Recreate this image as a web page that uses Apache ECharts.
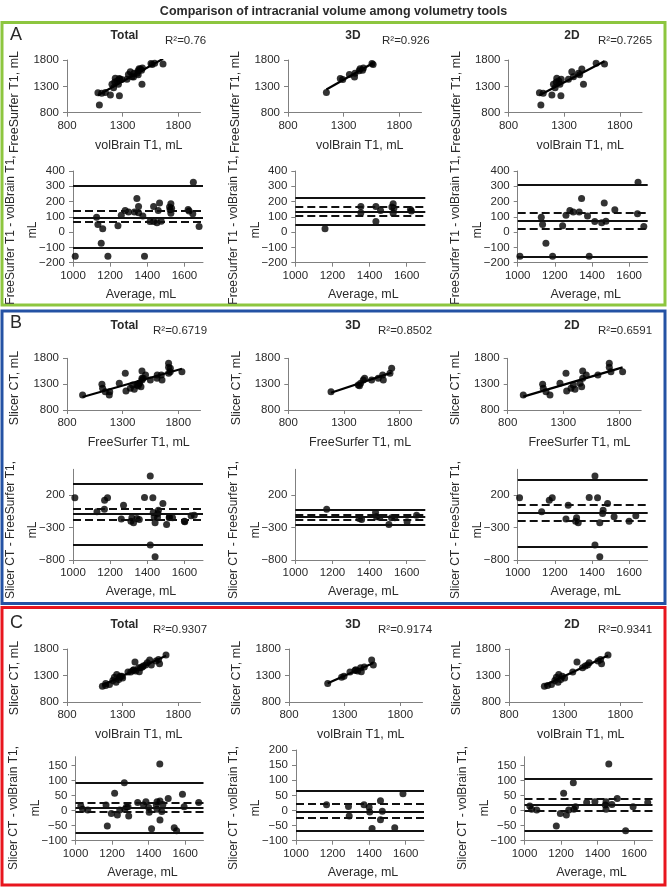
<!DOCTYPE html>
<html>
<head>
<meta charset="utf-8">
<script src="https://cdn.jsdelivr.net/npm/echarts@6/dist/echarts.min.js"></script>
<style>
html, body { margin: 0; padding: 0; background: #fff; }
#chart { width: 667px; height: 888px; }
</style>
</head>
<body>
<div id="chart"></div>
<script>
// ---- data ----
// Panel A: FreeSurfer T1 (y) vs volBrain T1 (x)
var aVol3d = [1145, 1270, 1292, 1352, 1398, 1402, 1448, 1470, 1478, 1440, 1555, 1565];
var aFs3d  = [1185, 1448, 1432, 1525, 1478, 1548, 1635, 1605, 1650, 1598, 1735, 1715];
var aVol2d = [1091, 1078, 1112, 1190, 1271, 1204, 1219, 1234, 1229, 1253, 1274, 1262, 1339, 1369, 1384, 1429, 1459, 1474, 1440, 1588, 1663];
var aFs2d  = [946, 1180, 1168, 1136, 1123, 1339, 1275, 1453, 1383, 1402, 1434, 1339, 1434, 1578, 1483, 1548, 1629, 1339, 1520, 1737, 1724];
var aAvg3d  = [1160, 1353, 1353, 1434, 1434, 1459, 1527, 1531, 1527, 1520, 1620, 1625];
var aDiff3d = [22, 168, 127, 168, 70, 142, 185, 157, 124, 165, 148, 138];
var aAvg2d  = [1012, 1127, 1134, 1152, 1188, 1242, 1260, 1281, 1299, 1331, 1344, 1376, 1385, 1415, 1452, 1466, 1475, 1523, 1648, 1645, 1679];
var aDiff2d = [-157, 98, 50, -72, -157, 42, 111, 142, 131, 131, 220, 105, -157, 70, 61, 190, 72, 146, 327, 120, 37];
// upper LoA, upper CI, mean, lower CI, lower LoA
var aLinesTotal = [305, 137, 97, 67, -103];
var aLines3d    = [228, 163, 135, 107, 48];
var aLines2d    = [311, 125, 76, 20, -160];
var aR2 = ['0.76', '0.926', '0.7265'];

// Panel B: Slicer CT (y) vs FreeSurfer T1 (x)
var bFs3d = [1184, 1429, 1450, 1474, 1486, 1549, 1609, 1648, 1654, 1714, 1729, 1440];
var bSl3d = [1154, 1284, 1316, 1380, 1413, 1380, 1413, 1477, 1380, 1510, 1606, 1270];
var bFs2d = [940, 1114, 1120, 1144, 1180, 1270, 1324, 1330, 1369, 1390, 1405, 1450, 1465, 1474, 1474, 1506, 1611, 1713, 1713, 1728, 1833];
var bSl2d = [1090, 1297, 1220, 1154, 1090, 1316, 1510, 1167, 1220, 1284, 1200, 1316, 1251, 1554, 1413, 1477, 1477, 1703, 1626, 1541, 1541];
var bAvg3d  = [1169, 1344, 1357, 1432, 1437, 1455, 1504, 1518, 1536, 1602, 1653];
var bDiff3d = [-15, -159, -174, -66, -133, -143, -251, -149, -149, -210, -108];
var bAvg2d  = [1010, 1129, 1170, 1186, 1260, 1272, 1317, 1326, 1312, 1385, 1416, 1430, 1442, 1460, 1457, 1484, 1416, 1442, 1519, 1600, 1636];
var bDiff2d = [159, -57, 123, 159, -169, 46, -149, -226, -200, 164, 497, 159, -226, -31, -82, 72, -569, -749, -133, -200, -118];
var bLinesTotal = [380, -5, -92, -174, -569];
var bLines3d    = [-20, -97, -134, -174, -261];
var bLines2d    = [441, 46, -72, -195, -595];
var bR2 = ['0.6719', '0.8502', '0.6591'];

// Panel C: Slicer CT (y) vs volBrain T1 (x)
var cVol3d = [1148, 1273, 1294, 1348, 1393, 1417, 1444, 1450, 1477, 1543, 1558, 1400];
var cSl3d  = [1148, 1269, 1288, 1364, 1394, 1383, 1445, 1369, 1459, 1591, 1497, 1410];
var cVol2d = [1118, 1147, 1182, 1212, 1226, 1241, 1247, 1265, 1279, 1300, 1373, 1411, 1461, 1485, 1506, 1521, 1623, 1632, 1690, 1600];
var cSl2d  = [1098, 1110, 1128, 1204, 1269, 1174, 1318, 1223, 1288, 1255, 1364, 1553, 1445, 1478, 1497, 1540, 1603, 1521, 1686, 1575];
var cAvg3d  = [1167, 1287, 1291, 1372, 1400, 1403, 1416, 1462, 1462, 1472, 1540, 1585];
var cDiff3d = [19, 13, -18, 19, 11, -5, -60, 32, -31, -3, -57, 55];
var cAvg2d  = [1029, 1039, 1067, 1174, 1196, 1214, 1229, 1242, 1267, 1270, 1279, 1340, 1385, 1442, 1446, 1446, 1461, 1478, 1507, 1553, 1594, 1674];
var cDiff2d = [16, 5, 2, -51, -9, 58, -14, 2, 93, 5, 13, 27, 30, 19, 5, 30, 156, 21, 41, -67, 13, 27];
var cLinesTotal = [93, 25, 11, -3, -73];
var cLines3d    = [66, 21, -3, -23, -68];
var cLines2d    = [105, 39, 19, -1, -68];
var cR2 = ['0.9307', '0.9174', '0.9341'];

var groupNames = ['Total', '3D', '2D'];
var scatterTicks = [800, 1300, 1800];
var baXTicks = [1000, 1200, 1400, 1600];
var aBaYTicks = [-200, -100, 0, 100, 200, 300, 400];
var bBaYTicks = [-800, -300, 200];
var cBaYTicks = [-100, -50, 0, 50, 100, 150];
var cBaYTicks3d = [-100, -50, 0, 50, 100, 150, 200];

// ---- building the option ----
var FONT = "'Liberation Sans', Arial, Helvetica, sans-serif";
var AXIS_GRAY = '#808080';
var TEXT_COLOR = '#2a2a2a';

var grid = [], xAxis = [], yAxis = [], series = [], graphic = [];

function pairs(xs, ys) {
  return xs.map(function (x, i) { return [x, ys[i]]; });
}

// least squares trend line over the x range of the points
function trend(xs, ys) {
  var n = xs.length, mx = 0, my = 0, sxy = 0, sxx = 0;
  for (var i = 0; i < n; i++) { mx += xs[i] / n; my += ys[i] / n; }
  for (var j = 0; j < n; j++) {
    sxy += (xs[j] - mx) * (ys[j] - my);
    sxx += (xs[j] - mx) * (xs[j] - mx);
  }
  var b = sxy / sxx, a = my - b * mx;
  var x0 = Math.min.apply(null, xs), x1 = Math.max.apply(null, xs);
  return [[x0, a + b * x0], [x1, a + b * x1]];
}

function axisOpt(min, max, ticks, isX) {
  return {
    type: 'value', min: min, max: max, gridIndex: grid.length - 1,
    splitLine: { show: false },
    axisLine: { show: true, onZero: false, lineStyle: { color: AXIS_GRAY, width: 1 } },
    axisTick: { show: true, length: 4, customValues: ticks, lineStyle: { color: AXIS_GRAY } },
    axisLabel: {
      customValues: ticks, color: TEXT_COLOR, fontSize: 11.5, fontFamily: FONT,
      margin: isX ? 7 : 8,
      formatter: function (v) { return String(v).replace('-', '\u2212'); }
    }
  };
}

function addScatter(box, xs, ys) {
  grid.push({ left: box[0], top: box[1], width: box[2], height: box[3] });
  var idx = grid.length - 1;
  xAxis.push(axisOpt(800, 2000, scatterTicks, true));
  yAxis.push(axisOpt(800, 1800, scatterTicks, false));
  series.push({
    type: 'scatter', xAxisIndex: idx, yAxisIndex: idx, data: pairs(xs, ys),
    symbolSize: 7, itemStyle: { color: '#000' }, silent: true
  });
  series.push({
    type: 'line', xAxisIndex: idx, yAxisIndex: idx, data: trend(xs, ys),
    showSymbol: false, lineStyle: { color: '#000', width: 2.2 }, silent: true, z: 3
  });
}

function addBA(box, avg, diff, lines, yMin, yMax, yTicks) {
  grid.push({ left: box[0], top: box[1], width: box[2], height: box[3] });
  var idx = grid.length - 1;
  xAxis.push(axisOpt(1000, 1700, baXTicks, true));
  yAxis.push(axisOpt(yMin, yMax, yTicks, false));
  series.push({
    type: 'scatter', xAxisIndex: idx, yAxisIndex: idx, data: pairs(avg, diff),
    symbolSize: 7, itemStyle: { color: '#000' }, silent: true,
    markLine: {
      silent: true, symbol: ['none', 'none'], label: { show: false },
      animation: false,
      data: lines.map(function (v, i) {
        var dashed = (i === 1 || i === 3);
        return { yAxis: v, lineStyle: { color: '#111', width: 1.8, type: dashed ? [8, 4] : 'solid' } };
      })
    }
  });
}

function addText(x, y, s, size, weight, align, rot) {
  graphic.push({
    type: 'text', x: x, y: y, rotation: rot || 0, silent: true,
    style: {
      text: s, fill: TEXT_COLOR, fontSize: size, fontWeight: weight || 'normal', fontFamily: FONT,
      textAlign: align || 'center', textVerticalAlign: 'middle',
      align: align || 'center', verticalAlign: 'middle'
    }
  });
}

var ROT = Math.PI / 2;

// panel A
var scL = [67, 288, 508.5], scW = 133.5;
var baL = [73, 295.3, 517.7], baW = 130;
addScatter([scL[0], 60, scW, 52.7], aVol3d.concat(aVol2d), aFs3d.concat(aFs2d));
addScatter([scL[1], 60, scW, 52.7], aVol3d, aFs3d);
addScatter([scL[2], 60, scW, 52.7], aVol2d, aFs2d);
addBA([baL[0], 171, baW, 91.7], aAvg3d.concat(aAvg2d), aDiff3d.concat(aDiff2d), aLinesTotal, -200, 400, aBaYTicks);
addBA([baL[1], 171, baW, 91.7], aAvg3d, aDiff3d, aLines3d, -200, 400, aBaYTicks);
addBA([baL[2], 171, baW, 91.7], aAvg2d, aDiff2d, aLines2d, -200, 400, aBaYTicks);

// panel B
var bScL = [67, 288.3, 507.7];
addScatter([bScL[0], 358.3, scW, 51.7], bFs3d.concat(bFs2d), bSl3d.concat(bSl2d));
addScatter([bScL[1], 358.3, scW, 51.7], bFs3d, bSl3d);
addScatter([bScL[2], 358.3, scW, 51.7], bFs2d, bSl2d);
addBA([baL[0], 469.3, baW, 90.7], bAvg3d.concat(bAvg2d), bDiff3d.concat(bDiff2d), bLinesTotal, -800, 600, bBaYTicks);
addBA([baL[1], 469.3, baW, 90.7], bAvg3d, bDiff3d, bLines3d, -800, 600, bBaYTicks);
addBA([baL[2], 469.3, baW, 90.7], bAvg2d, bDiff2d, bLines2d, -800, 600, bBaYTicks);

// panel C
var cScL = [67, 289, 509];
var cBaL = [75.5, 296, 524.5], cBaW = 128;
addScatter([cScL[0], 649, scW, 53], cVol3d.concat(cVol2d), cSl3d.concat(cSl2d));
addScatter([cScL[1], 649, scW, 53], cVol3d, cSl3d);
addScatter([cScL[2], 649, scW, 53], cVol2d, cSl2d);
addBA([cBaL[0], 756.7, cBaW, 84], cAvg3d.concat(cAvg2d), cDiff3d.concat(cDiff2d), cLinesTotal, -100, 180, cBaYTicks);
addBA([cBaL[1], 750, cBaW, 90.7], cAvg3d, cDiff3d, cLines3d, -100, 200, cBaYTicks3d);
addBA([cBaL[2], 756.7, cBaW, 84], cAvg2d, cDiff2d, cLines2d, -100, 180, cBaYTicks);

// frames
graphic.push({ type: 'rect', silent: true, shape: { x: 2, y: 22.5, width: 663, height: 282.5 },
  style: { fill: 'none', stroke: '#8dc63f', lineWidth: 3 } });
graphic.push({ type: 'rect', silent: true, shape: { x: 2, y: 311, width: 663, height: 292.5 },
  style: { fill: 'none', stroke: '#2452a4', lineWidth: 3 } });
graphic.push({ type: 'rect', silent: true, shape: { x: 2, y: 607.5, width: 663, height: 277.5 },
  style: { fill: 'none', stroke: '#e8161e', lineWidth: 3 } });

addText(333.5, 12, 'Comparison of intracranial volume among volumetry tools', 12.5, 'bold');

// panel headings
var panels = [
  { letter: 'A', y: 35.5, r2: aR2, r2x: [165, 382, 598], sub: 36,
    xs: 'volBrain T1, mL', ys: 'FreeSurfer T1, mL', ysY: 102, scL: scL, scBottom: 112.7,
    ba: 'FreeSurfer T1 - volBrain T1,', baY: 230, baL: baL, baW: baW, baBottom: 262.7 },
  { letter: 'B', y: 323.5, r2: bR2, r2x: [153, 378, 598], sub: 326,
    xs: 'FreeSurfer T1, mL', ys: 'Slicer CT, mL', ysY: 388, scL: bScL, scBottom: 410,
    ba: 'Slicer CT - FreeSurfer T1,', baY: 530, baL: baL, baW: baW, baBottom: 560 },
  { letter: 'C', y: 623.5, r2: cR2, r2x: [153, 378, 598], sub: 625,
    xs: 'volBrain T1, mL', ys: 'Slicer CT, mL', ysY: 678, scL: cScL, scBottom: 702,
    ba: 'Slicer CT - volBrain T1,', baY: 808, baL: cBaL, baW: cBaW, baBottom: 840.7 }
];
var subX = [124.5, 353, 572];

panels.forEach(function (p) {
  addText(10, p.y, p.letter, 18, 'normal', 'left');
  for (var k = 0; k < 3; k++) {
    addText(subX[k], p.sub, groupNames[k], 12, 'bold');
    addText(p.r2x[k], p.sub + 5, 'R\u00b2=' + p.r2[k], 11.5, 'normal', 'left');
    addText(p.scL[k] + scW / 2 + 5, p.scBottom + 33, p.xs, 12.5);
    addText(p.scL[k] - 52, p.ysY, p.ys, 12.5, 'normal', 'center', ROT);
    addText(p.baL[k] + p.baW / 2 + 3, p.baBottom + 32, 'Average, mL', 12.5);
    addText(p.baL[k] - 62, p.baY, p.ba, 12, 'normal', 'center', ROT);
    addText(p.baL[k] - 40, p.baY, 'mL', 12, 'normal', 'center', ROT);
  }
});

var myChart = echarts.init(document.getElementById('chart'));
myChart.setOption({
  animation: false,
  backgroundColor: '#fff',
  grid: grid,
  xAxis: xAxis,
  yAxis: yAxis,
  series: series,
  graphic: graphic
});
</script>
</body>
</html>
